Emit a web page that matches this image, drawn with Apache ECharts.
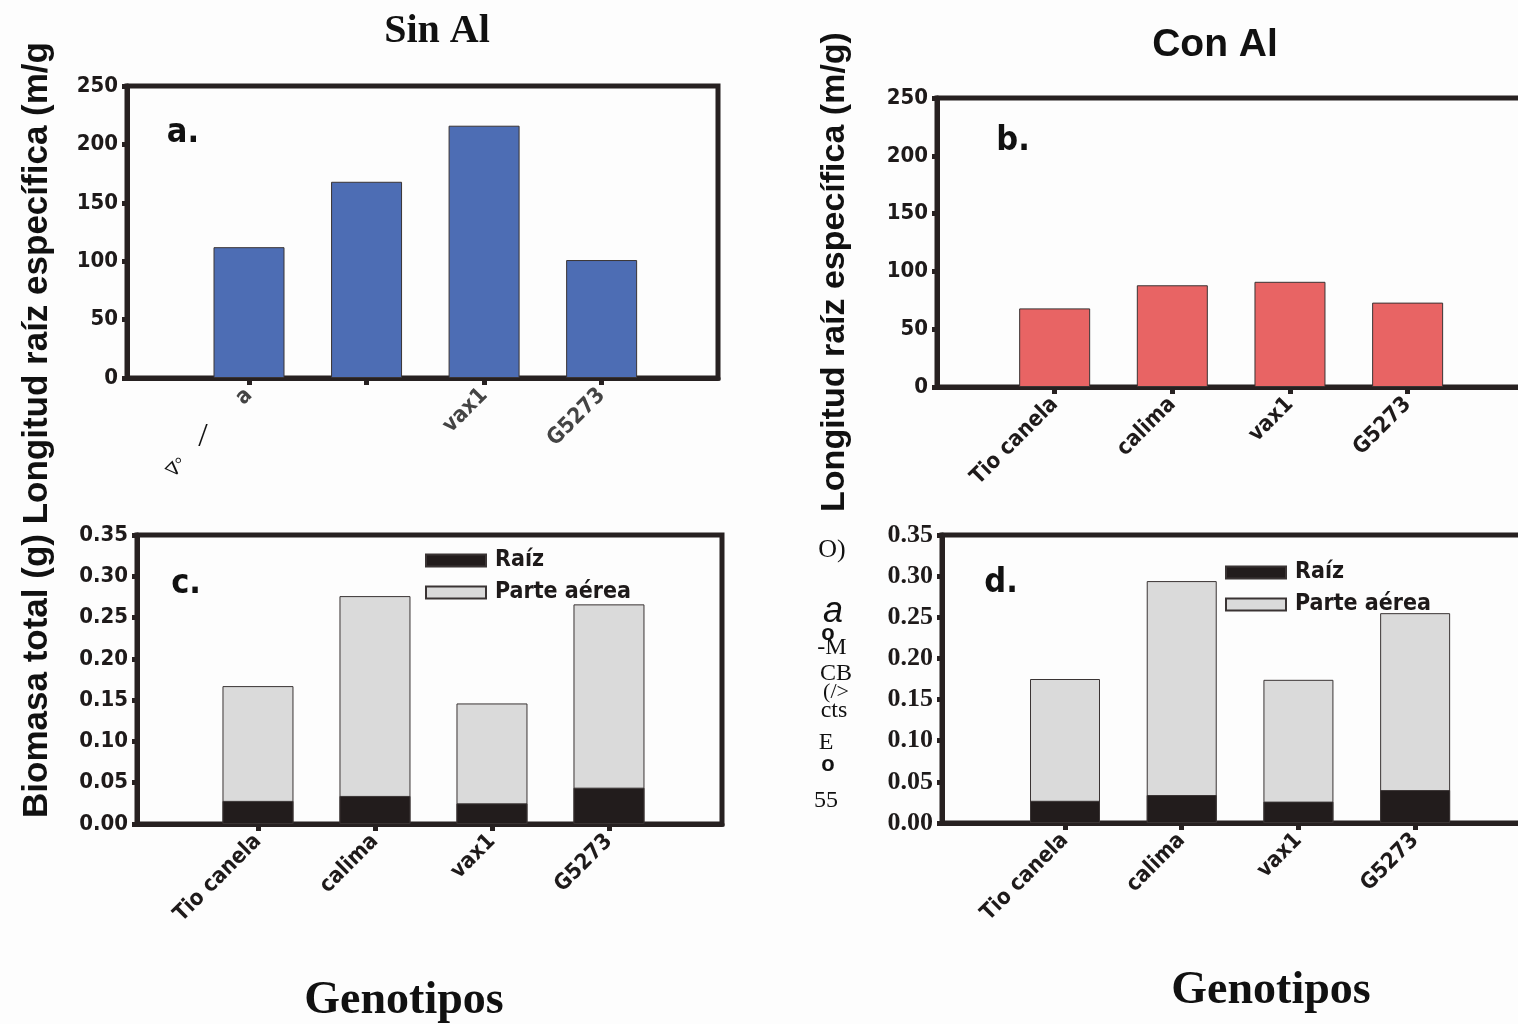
<!DOCTYPE html>
<html><head><meta charset="utf-8">
<script src="https://cdn.jsdelivr.net/npm/echarts@6/dist/echarts.min.js"></script>
<style>html,body{margin:0;padding:0;background:#fdfdfd}#c{width:1518px;height:1024px}</style>
</head><body><div id="c"></div>
<script>
// ---- data ----
const catsA = ['a', '', 'vax1', 'G5273'];          // labels as printed in panel a (scan)
const cats = ['Tio canela', 'calima', 'vax1', 'G5273'];
const positions = [1, 2, 3, 4];
const srlSinAl = [112, 168, 216, 101];
const srlConAl = [68, 88, 91, 73];
const raizSinAl = [0.028, 0.034, 0.025, 0.044];
const totalSinAl = [0.167, 0.276, 0.146, 0.266];
const raizConAl = [0.027, 0.034, 0.026, 0.040];
const totalConAl = [0.175, 0.294, 0.174, 0.255];
const srlTicks = {min: 0, max: 250, interval: 50};
const bioTicks = {min: 0, max: 0.35, interval: 0.05};

const dark = '#272121';
const narrow = '"DejaVu Sans Condensed","Liberation Sans Narrow",Arial,sans-serif';
const serif = '"Liberation Serif","DejaVu Serif",serif';
const sans = '"Liberation Sans",Arial,sans-serif';

const grids = [
  {left: 127, top: 86, width: 591, height: 292},
  {left: 937, top: 98, width: 593, height: 289},
  {left: 137, top: 535, width: 585, height: 289},
  {left: 942, top: 535, width: 593, height: 288}
].map(g => Object.assign({show: true, borderColor: dark, borderWidth: 5, backgroundColor: 'transparent',
  containLabel: false, outerBoundsMode: 'none'}, g));

const xRanges = [[-0.038, 4.99], [0, 5.04], [-0.034, 4.966], [-0.054, 5.027]];
const xLabels = [catsA, cats, cats, cats];
const xAxes = xRanges.map((r, i) => ({
  type: 'value', gridIndex: i, min: r[0], max: r[1],
  splitLine: {show: false},
  axisLine: {show: true, onZero: false, lineStyle: {color: dark, width: 5}},
  axisTick: {show: true, customValues: positions, length: 7, lineStyle: {color: dark, width: 5}},
  axisLabel: {show: true, customValues: positions, rotate: 45, margin: 14,
    formatter: v => xLabels[i][positions.indexOf(v)] || '',
    fontFamily: narrow, fontWeight: 'bold', fontSize: 22, color: i === 0 ? '#444' : '#1e1a1a'}
}));

const yAxes = [srlTicks, srlTicks, bioTicks, bioTicks].map((t, i) => ({
  type: 'value', gridIndex: i, min: t.min, max: t.max, interval: t.interval,
  splitLine: {show: false},
  axisLine: {show: true, onZero: false, lineStyle: {color: dark, width: 5}},
  axisTick: {show: true, length: 5, lineStyle: {color: dark, width: 5}},
  axisLabel: {margin: 9, color: '#1e1a1a', fontWeight: 'bold',
    fontFamily: i === 3 ? serif : narrow, fontSize: i === 3 ? 26 : 22,
    formatter: v => i >= 2 ? v.toFixed(2) : String(Math.round(v))}
}));

const pts = arr => arr.map((v, k) => [positions[k], v]);
const border = {borderColor: '#3a3434', borderWidth: 1};

const series = [
  {type: 'bar', xAxisIndex: 0, yAxisIndex: 0, barWidth: 71, data: pts(srlSinAl),
   itemStyle: Object.assign({color: '#4d6db4'}, border)},
  {type: 'bar', xAxisIndex: 1, yAxisIndex: 1, barWidth: 71, data: pts(srlConAl),
   itemStyle: Object.assign({color: '#e86464'}, border)},
  // total biomass bar (shoot part visible above the root part drawn over it)
  {name: 'Parte aérea', type: 'bar', xAxisIndex: 2, yAxisIndex: 2, barWidth: 71, barGap: '-100%', data: pts(totalSinAl),
   itemStyle: Object.assign({color: '#dadada'}, border)},
  {name: 'Raíz', type: 'bar', xAxisIndex: 2, yAxisIndex: 2, barWidth: 71, barGap: '-100%', data: pts(raizSinAl),
   itemStyle: Object.assign({color: '#221c1c'}, border)},
  {name: 'Parte aérea', type: 'bar', xAxisIndex: 3, yAxisIndex: 3, barWidth: 70, barGap: '-100%', data: pts(totalConAl),
   itemStyle: Object.assign({color: '#dadada'}, border)},
  {name: 'Raíz', type: 'bar', xAxisIndex: 3, yAxisIndex: 3, barWidth: 70, barGap: '-100%', data: pts(raizConAl),
   itemStyle: Object.assign({color: '#221c1c'}, border)}
];

const legendBase = {orient: 'vertical', icon: 'rect', itemWidth: 60, itemHeight: 12, itemGap: 5, padding: 0,
  data: ['Raíz', 'Parte aérea'], selectedMode: false,
  textStyle: {fontFamily: narrow, fontWeight: 'bold', fontSize: 23, lineHeight: 27, color: '#1e1a1a', padding: [0, 0, 0, 4]}};

const txt = (x, y, s, font, extra) => Object.assign({type: 'text', x: x, y: y,
  style: Object.assign({text: s, fill: '#111', textAlign: 'center', textVerticalAlign: 'middle'}, font)}, extra || {});

const graphic = [
  txt(437, 32, 'Sin Al', {font: 'bold 40px ' + serif}),
  txt(1215, 45, 'Con Al', {font: 'bold 39px ' + sans}),
  txt(404, 1001, 'Genotipos', {font: 'bold 46px ' + serif}),
  txt(1271, 991, 'Genotipos', {font: 'bold 46px ' + serif}),
  txt(37, 430, 'Biomasa total (g) Longitud raíz específica (m/g', {font: 'bold 35px ' + sans}, {rotation: Math.PI / 2}),
  txt(835, 272, 'Longitud raíz específica (m/g)', {font: 'bold 34px ' + sans}, {rotation: Math.PI / 2}),
  txt(183, 133, 'a.', {font: 'bold 34px ' + narrow}),
  txt(1013, 141, 'b.', {font: 'bold 34px ' + narrow}),
  txt(186, 584, 'c.', {font: 'bold 34px ' + narrow}),
  txt(1001, 583, 'd.', {font: 'bold 34px ' + narrow}),
  // scan / OCR artefacts in the reference
  txt(203, 437, '/', {font: '34px ' + serif}),
  txt(177, 468, '∇°', {font: '18px ' + serif}, {rotation: Math.PI / 4}),
  txt(832, 550, 'O)', {font: '26px ' + serif}),
  txt(833, 612, 'a', {font: 'italic 36px ' + sans}),
  txt(828, 634, 'o', {font: 'bold 22px ' + sans}),
  txt(832, 648, '-M', {font: '24px ' + serif}),
  txt(836, 674, 'CB', {font: '24px ' + serif}),
  txt(836, 692, '(/>', {font: '22px ' + serif}),
  txt(834, 711, 'cts', {font: '24px ' + serif}),
  txt(826, 743, 'E', {font: '24px ' + serif}),
  txt(828, 765, 'o', {font: 'bold 22px ' + sans}),
  txt(826, 801, '55', {font: '24px ' + serif})
];

const chart = echarts.init(document.getElementById('c'), null, {renderer: 'canvas'});
chart.setOption({
  backgroundColor: '#fdfdfd',
  animation: false,
  grid: grids,
  xAxis: xAxes,
  yAxis: yAxes,
  legend: [
    Object.assign({left: 425, top: 547}, legendBase),
    Object.assign({left: 1225, top: 559}, legendBase)
  ],
  series: series,
  graphic: graphic
});
</script></body></html>
